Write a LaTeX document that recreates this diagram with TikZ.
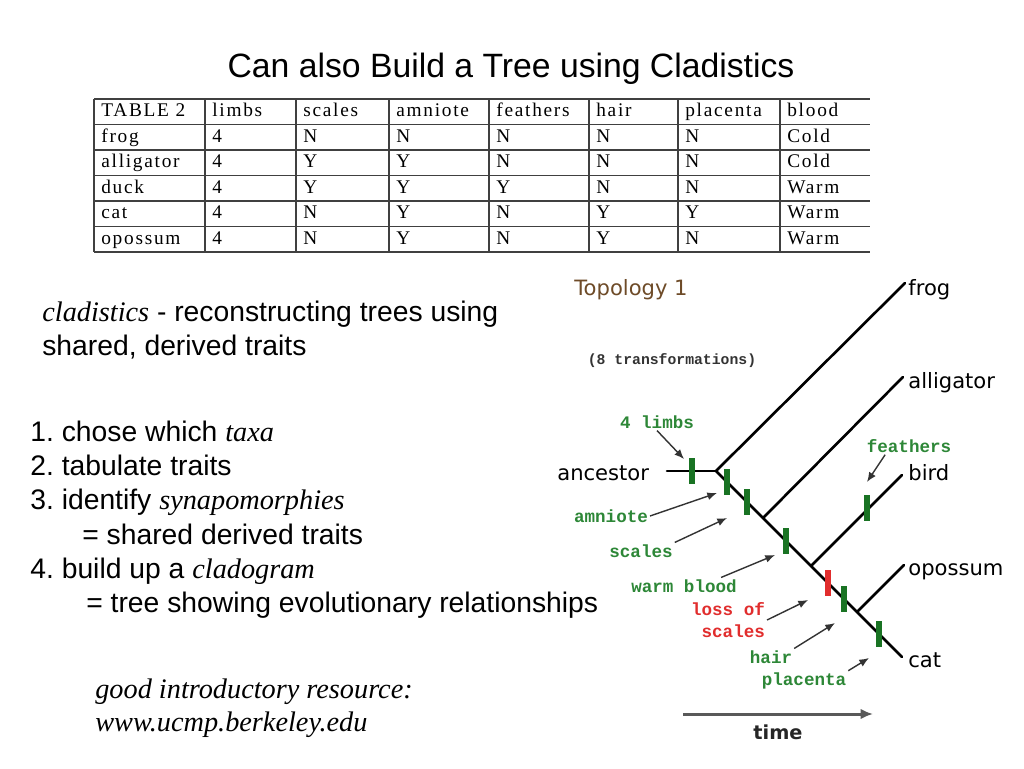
\documentclass[tikz,border=0pt]{standalone}
\usepackage{fontspec}
\setmainfont{Liberation Sans}
\newfontfamily\tms{Liberation Serif}
\newfontfamily\tabfam{Liberation Serif}[LetterSpace=9]
\newfontfamily\cmc{DejaVu Sans}
\newfontfamily\crr{Liberation Mono}
\usetikzlibrary{arrows.meta}
\definecolor{trgreen}{RGB}{45,135,55}
\definecolor{tkgreen}{RGB}{25,115,35}
\definecolor{trred}{RGB}{225,45,45}
\definecolor{topobrown}{RGB}{110,75,40}
\newcommand{\cterm}[1]{{\tms\itshape #1}}
\frenchspacing

\begin{document}
\begin{tikzpicture}[
    x=0.02cm, y=-0.02cm,
    ttl/.style={font=\fontsize{19.2}{23}\selectfont, anchor=base, inner sep=0pt},
    txt/.style={font=\fontsize{16.1}{19}\selectfont, anchor=base west, inner sep=0pt},
    cell/.style={font=\tabfam\fontsize{11}{13}\selectfont, anchor=base west, inner sep=0pt},
    grid/.style={draw=black!75, line width=0.6pt},
    taxon/.style={font=\cmc\fontsize{12}{14}\selectfont, text=black, anchor=base west, inner sep=0pt},
    trait/.style={font=\crr\bfseries\fontsize{10}{12.5}\selectfont, text=trgreen, inner sep=1pt},
    lost/.style={trait, text=trred},
    tick/.style={fill=tkgreen, minimum width=3.4pt, minimum height=15.3pt, inner sep=0pt},
    redtick/.style={tick, fill=trred},
    branch/.style={line width=1.5pt, line cap=round},
    ptr/.style={-{Latex[length=5.5pt, width=4.5pt]}, draw=black!80, line width=0.8pt}
  ]
  \fill[white] (0,0) rectangle (1024,768);
  \useasboundingbox (0,0) rectangle (1024,768);

  \node[ttl] (title) at (511,77) {Can also Build a Tree using Cladistics};

  % trait table
  \foreach \r in {0,...,6}
    \draw[grid] (94,{99+25.5*\r}) -- (870,{99+25.5*\r});
  \foreach \x in {94,205,296,389,489,589,678,780}
    \draw[grid] (\x,99) -- (\x,252);
  \foreach \ln [count=\r from 0] in {
      {TABLE 2,limbs,scales,amniote,feathers,hair,placenta,blood},
      {frog,4,N,N,N,N,N,Cold},
      {alligator,4,Y,Y,N,N,N,Cold},
      {duck,4,Y,Y,Y,N,N,Warm},
      {cat,4,N,Y,N,Y,Y,Warm},
      {opossum,4,N,Y,N,Y,N,Warm}}
    \foreach \cv [count=\c from 0] in \ln {
      \pgfmathsetmacro{\cx}{{94,205,296,389,489,589,678,780}[\c]+7}
      \node[cell] (c-\r-\c) at (\cx,{116.5+25.5*\r}) {\cv};
    }

  % left text
  \node[txt] (def1) at (42,321) {\cterm{cladistics} - reconstructing trees using};
  \node[txt] (def2) at (42,355) {shared, derived traits};
  \node[txt] (st1)  at (30,441) {1. chose which \cterm{taxa}};
  \node[txt] (st2)  at (30,475) {2. tabulate traits};
  \node[txt] (st3)  at (30,509) {3. identify \cterm{synapomorphies}};
  \node[txt] (st3b) at (82,544) {= shared derived traits};
  \node[txt] (st4)  at (30,578) {4. build up a \cterm{cladogram}};
  \node[txt] (st4b) at (86,612) {= tree showing evolutionary relationships};
  \node[txt] (res1) at (95,698) {\tms\itshape good introductory resource:};
  \node[txt] (res2) at (95,731) {\tms\itshape www.ucmp.berkeley.edu};

  % cladogram
  \node[font=\cmc\fontsize{12}{14}\selectfont, text=topobrown] (topo) at (631,290) {Topology 1};
  \node[font=\crr\bfseries\fontsize{8.4}{10}\selectfont, text=black!80] (ntr) at (672,361) {(8 transformations)};

  \node[taxon] (anc)  at (557,480) {ancestor};
  \node[taxon] (frog) at (908,295) {frog};
  \node[taxon] (alli) at (908,388) {alligator};
  \node[taxon] (bird) at (908,480) {bird};
  \node[taxon] (opos) at (908,575) {opossum};
  \node[taxon] (cat)  at (908,667) {cat};

  \coordinate (a0)    at (667,471);
  \coordinate (root)  at (716,471);
  \coordinate (efrog) at (905,283);
  \coordinate (balli) at (763,518);
  \coordinate (ealli) at (903,377);
  \coordinate (bbird) at (811,566);
  \coordinate (ebird) at (902,475);
  \coordinate (bopos) at (857,612);
  \coordinate (eopos) at (904,565);
  \coordinate (ecat)  at (902,657);

  \draw[branch] (a0) -- (root);
  \draw[branch] (root) -- (efrog);
  \draw[branch] (root) -- (ecat);
  \draw[branch] (balli) -- (ealli);
  \draw[branch] (bbird) -- (ebird);
  \draw[branch] (bopos) -- (eopos);

  \node[tick]    (tlimb) at (692,471) {};
  \node[tick]    (tamn)  at (727,482) {};
  \node[tick]    (tsca)  at (747,502) {};
  \node[tick]    (twarm) at (786,541) {};
  \node[redtick] (tloss) at (828,583) {};
  \node[tick]    (thair) at (844,599) {};
  \node[tick]    (tplac) at (879,634) {};
  \node[tick]    (tfeat) at (867,508) {};

  \node[trait] (llimb) at (657,422) {4 limbs};
  \node[trait] (lamn)  at (611,516) {amniote};
  \node[trait] (lsca)  at (641,551) {scales};
  \node[trait] (lwarm) at (684,586) {warm blood};
  \node[lost, align=right] (lloss) at (728,620) {loss of\\scales};
  \node[trait] (lhair) at (771,657) {hair};
  \node[trait] (lplac) at (804,681) {placenta};
  \node[trait] (lfeat) at (909,446) {feathers};

  \coordinate (plimb) at (684,459);
  \coordinate (pamn)  at (717,493);
  \coordinate (psca)  at (727,518);
  \coordinate (pwarm) at (775,555);
  \coordinate (ploss) at (808,600);
  \coordinate (phair) at (835,623);
  \coordinate (pplac) at (869,658);
  \coordinate (pfeat) at (867,482);

  \draw[ptr] (llimb.south) -- (plimb);
  \draw[ptr] (lamn.east) -- (pamn);
  \draw[ptr] (lsca.north east) -- (psca);
  \draw[ptr] (lwarm.13) -- (pwarm);
  \draw[ptr] (lloss.east) -- (ploss);
  \draw[ptr] (lhair.north east) -- (phair);
  \draw[ptr] (lplac.north east) -- (pplac);
  \draw[ptr] (lfeat.200) -- (pfeat);

  % time axis
  \coordinate (t0) at (683,714);
  \coordinate (t1) at (873,714);
  \draw[-{Latex[length=7pt, width=6pt]}, draw=black!65, line width=1.7pt] (t0) -- (t1);
  \node[font=\cmc\bfseries\fontsize{11}{13}\selectfont, text=black!85] (time) at (778,732) {time};
\end{tikzpicture}
\end{document}
